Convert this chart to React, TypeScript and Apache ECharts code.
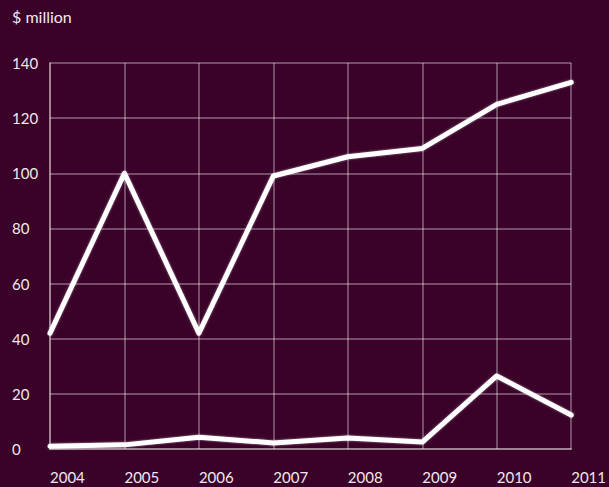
import React, { useEffect, useRef } from "react";
import * as echarts from "echarts";

const years = ["2004", "2005", "2006", "2007", "2008", "2009", "2010", "2011"];
const upperSeries = [42, 100, 42, 99, 106, 109, 125, 133];
const lowerSeries = [1, 1.5, 4.3, 2.2, 4, 2.5, 26.5, 12.3];
const yTicks = [0, 20, 40, 60, 80, 100, 120, 140];

export default function App() {
  const ref = useRef<HTMLDivElement>(null);
  useEffect(() => {
    if (!ref.current) return;
    const chart = echarts.init(ref.current, null, { renderer: "svg" });
    const textColor = "#f2e8ee";
    const gridColor = "rgba(255,255,255,0.3)";
    const font = "Lato, 'Open Sans', sans-serif";
    const lineStyle = {
      color: "#ffffff",
      width: 5,
      shadowColor: "rgba(255,255,255,0.5)",
      shadowBlur: 2,
      cap: "round" as const,
      join: "round" as const,
    };
    chart.setOption({
      animation: false,
      backgroundColor: "#3a0129",
      title: {
        text: "$ million",
        left: 7,
        top: 3,
        textStyle: { color: textColor, fontSize: 16, fontWeight: "normal", fontFamily: font },
      },
      grid: { left: 50, right: 37, top: 63, bottom: 38 },
      xAxis: {
        type: "category",
        data: years,
        boundaryGap: false,
        axisLine: { show: true, lineStyle: { color: gridColor, width: 2 } },
        axisTick: { show: false },
        axisLabel: {
          color: textColor,
          fontSize: 15,
          fontFamily: font,
          align: "left",
          margin: 20,
          showMaxLabel: true,
        },
        splitLine: { show: true, lineStyle: { color: gridColor, width: 2 } },
      },
      yAxis: {
        type: "value",
        min: yTicks[0],
        max: yTicks[yTicks.length - 1],
        interval: 20,
        axisLine: { show: true, lineStyle: { color: gridColor, width: 2 } },
        axisTick: { show: false },
        axisLabel: {
          color: textColor,
          fontSize: 15,
          fontFamily: font,
          align: "left",
          margin: 38,
        },
        splitLine: { show: true, lineStyle: { color: gridColor, width: 2 } },
      },
      series: [
        {
          type: "line",
          data: upperSeries,
          symbol: "none",
          lineStyle,
        },
        {
          type: "line",
          data: lowerSeries,
          symbol: "none",
          lineStyle,
        },
      ],
    });
    return () => chart.dispose();
  }, []);
  return <div ref={ref} style={{ width: 609, height: 487, position: "absolute", left: 0, top: 0 }} />;
}
